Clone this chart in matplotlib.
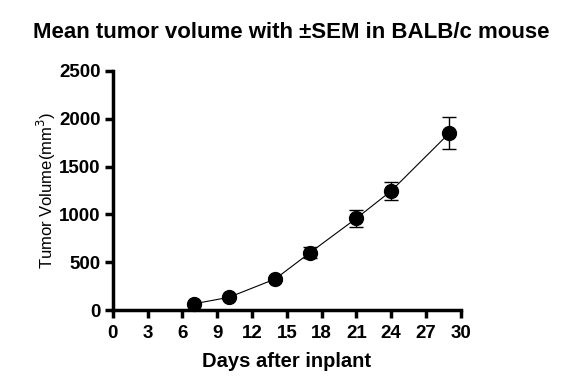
import numpy as np
import matplotlib
matplotlib.use("Agg")
import matplotlib.pyplot as plt

plt.rcParams['font.family'] = ['Liberation Sans', 'DejaVu Sans']

# Datos
dias = [7, 10, 14, 17, 21, 24, 29]
volumen = [66, 133, 325, 600, 959, 1245, 1848]
sem = [10, 15, 20, 60, 88, 93, 167]

fig = plt.figure(figsize=(5.73, 3.92), dpi=100)
ax = fig.add_axes([0.197, 0.209, 0.607, 0.610])

ax.errorbar(dias, volumen, yerr=sem, color='black', marker='o', markersize=10,
            linewidth=0.8, elinewidth=1.0, capsize=5, capthick=1.0, clip_on=False)

ax.set_xlim(0, 30)
ax.set_ylim(0, 2500)
ax.set_xticks(np.arange(0, 31, 3))
ax.set_yticks(np.arange(0, 2501, 500))

for s in ['top', 'right']:
    ax.spines[s].set_visible(False)
for s in ['left', 'bottom']:
    ax.spines[s].set_linewidth(2.5)
ax.tick_params(width=2.5, length=6, labelsize=13.5)
ax.tick_params(axis='x', pad=5)
ax.tick_params(axis='y', pad=3)
for lbl in ax.get_xticklabels() + ax.get_yticklabels():
    lbl.set_fontweight('bold')

fig.text(0.508, 0.916, "Mean tumor volume with \u00b1SEM in BALB/c mouse",
         fontsize=16, fontweight='bold', ha='center', va='center')
ax.set_xlabel("Days after inplant", fontsize=14.5, fontweight='bold', labelpad=7)
ax.set_ylabel("Tumor Volume(mm$^3$)", fontsize=12)
ax.yaxis.set_label_coords(-0.158, 0.5)

fig.savefig("out.png", dpi=100)
